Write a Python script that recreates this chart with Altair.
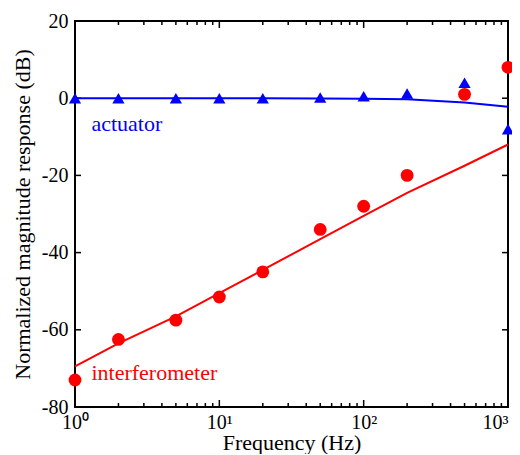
import altair as alt
import pandas as pd

freq = [1, 2, 5, 10, 20, 50, 100, 200, 500, 1000]
act_pts = [0, 0, 0, 0, 0, 0.2, 0.5, 1.2, 4, -8]
int_pts = [-73, -62.5, -57.5, -51.5, -45, -34, -28, -20, 1, 8]
act_fit = [0, 0, 0, 0, 0, -0.05, -0.15, -0.3, -1.1, -2.2]
int_fit = [-69.5, -63.5, -56.5, -50.5, -44.5, -36.5, -30.5, -24.5, -17.5, -12]

x_major = [1, 10, 100, 1000]
x_minor = [m * 10 ** k for k in range(3) for m in range(2, 10)]
y_major = [-80, -60, -40, -20, 0, 20]

labels = ["actuator", "interferometer"]
label_x = [1.3, 1.3]
label_y = [-6.7, -71.2]
label_col = ["#0000ff", "#ff0000"]

W, H = 433, 386
FONT = "Liberation Serif"

xs = alt.Scale(type="log", domain=[1, 1000], nice=False)
ys = alt.Scale(domain=[-80, 20], nice=False, zero=False)

df = pd.DataFrame({"f": freq, "act": act_pts, "intf": int_pts,
                   "actfit": act_fit, "intfit": int_fit})

sup = {1: "10⁰", 10: "10¹", 100: "10²", 1000: "10³"}
lab_expr = " : ".join(f"datum.value == {k} ? '{v}'" for k, v in sup.items()) + " : ''"

base = alt.Chart(df)

axes = base.mark_point(opacity=0).encode(
    x=alt.X("f:Q", scale=xs, axis=alt.Axis(
        values=x_major, labelExpr=lab_expr, title="Frequency (Hz)",
        tickSize=0, domain=False, grid=False, labelPadding=5, labelFlush=False,
        labelAlign={"condition": {"test": "datum.value == 1000", "value": "right"},
                    "value": "center"},
        titlePadding=0)),
    y=alt.Y("act:Q", scale=ys, axis=alt.Axis(
        values=y_major, labelExpr="'' + datum.value", labelFlush=False,
        title="Normalized magnitude response (dB)",
        tickSize=0, domain=False, grid=False, labelPadding=7, titlePadding=7)),
)

blue_line = base.mark_line(color="#0000ff", strokeWidth=2).encode(
    x=alt.X("f:Q", scale=xs), y=alt.Y("actfit:Q", scale=ys))
red_line = base.mark_line(color="#ff0000", strokeWidth=2).encode(
    x=alt.X("f:Q", scale=xs), y=alt.Y("intfit:Q", scale=ys))
tri = base.mark_point(shape="triangle-up", filled=True, color="#0000ff",
                      size=150, opacity=1).encode(
    x=alt.X("f:Q", scale=xs), y=alt.Y("act:Q", scale=ys))
circ = base.mark_circle(color="#ff0000", size=165, opacity=1).encode(
    x=alt.X("f:Q", scale=xs), y=alt.Y("intf:Q", scale=ys))

ldf = pd.DataFrame({"t": labels, "x": label_x, "y": label_y, "c": label_col})
texts = alt.Chart(ldf).mark_text(align="left", baseline="middle",
                                 font=FONT, fontSize=22).encode(
    x=alt.X("x:Q", scale=xs), y=alt.Y("y:Q", scale=ys),
    text="t:N", color=alt.Color("c:N", scale=None))

xmaj = pd.DataFrame({"v": x_major})
xmin = pd.DataFrame({"v": x_minor})
ymaj = pd.DataFrame({"v": y_major})

def xt(d, L):
    top = alt.Chart(d).mark_rule(color="black", strokeWidth=1.5).encode(
        x=alt.X("v:Q", scale=xs), y=alt.value(0), y2=alt.value(L))
    bot = alt.Chart(d).mark_rule(color="black", strokeWidth=1.5).encode(
        x=alt.X("v:Q", scale=xs), y=alt.value(H), y2=alt.value(H - L))
    return top + bot

yl = alt.Chart(ymaj).mark_rule(color="black", strokeWidth=1.5).encode(
    y=alt.Y("v:Q", scale=ys), x=alt.value(0), x2=alt.value(6))
yr = alt.Chart(ymaj).mark_rule(color="black", strokeWidth=1.5).encode(
    y=alt.Y("v:Q", scale=ys), x=alt.value(W), x2=alt.value(W - 6))

chart = alt.layer(
    axes, xt(xmaj, 7), xt(xmin, 4), yl, yr,
    blue_line, red_line, tri, circ, texts
).properties(
    width=W, height=H,
    autosize=alt.AutoSizeParams(type="none"),
    padding={"left": 67, "top": 13, "right": 4, "bottom": 47},
).configure_view(
    stroke="black", strokeWidth=2
).configure_axis(
    labelFont=FONT, titleFont=FONT, labelFontSize=20, titleFontSize=22,
    labelColor="black", titleColor="black", titleFontWeight="normal"
)

chart.save("out.html", embed_options={"renderer": "svg", "actions": False})
